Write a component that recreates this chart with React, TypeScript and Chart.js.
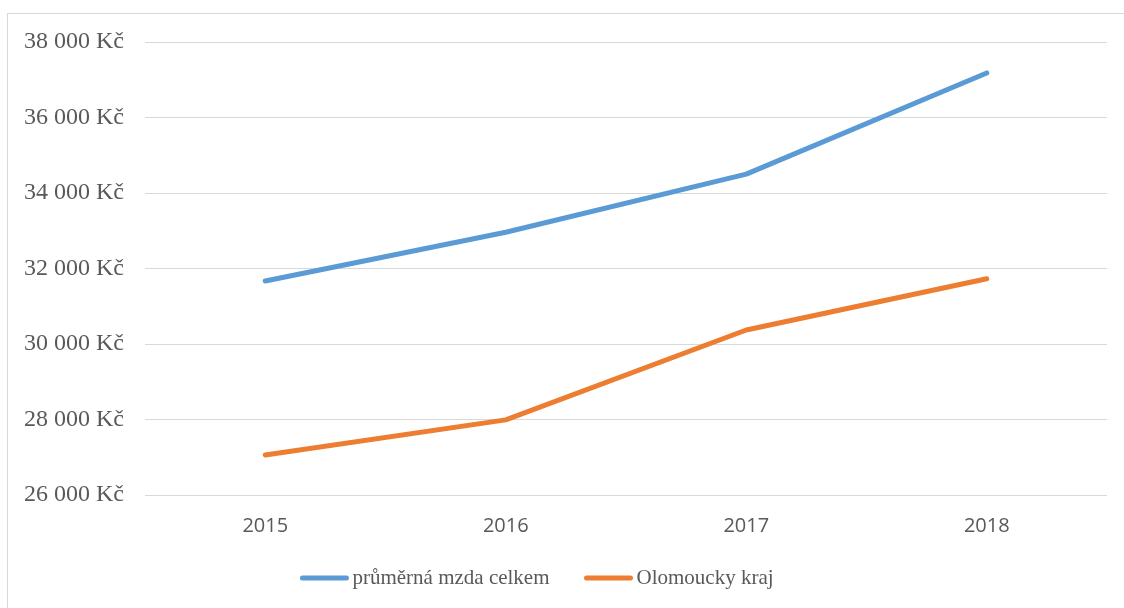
import React, { useEffect, useRef } from "react";
import { Chart, registerables } from "chart.js";

Chart.register(...registerables);

const years = ["2015", "2016", "2017", "2018"];
const averageWage = [31670, 32960, 34500, 37180];
const olomoucRegion = [27060, 27990, 30370, 31730];
const yMin = 26000;
const yMax = 38000;
const yStep = 2000;

const BLUE = "#5B9BD5";
const ORANGE = "#ED7D31";
const GRID = "#D9D9D9";
const TEXT = "#595959";
const SERIF = "'Liberation Serif', 'Times New Roman', serif";

const formatKc = (v: number) =>
  String(v).replace(/\B(?=(\d{3})+(?!\d))/g, " ") + " Kč";

// Legend drawn as a line swatch followed closely by its label, centred on one row.
const lineLegend = {
  id: "lineLegend",
  afterDraw(chart: any) {
    const ctx = chart.ctx;
    const datasets = chart.data.datasets;
    const swatch = 48;
    const gapText = 4;
    const gapItem = 35;
    const centerX = 537;
    const y = 578;
    ctx.save();
    ctx.font = "21px " + SERIF;
    const widths = datasets.map((d: any) => ctx.measureText(d.label).width);
    const total =
      widths.reduce((a: number, w: number) => a + swatch + gapText + w, 0) +
      gapItem * (datasets.length - 1);
    let x = centerX - total / 2;
    datasets.forEach((d: any, i: number) => {
      ctx.strokeStyle = d.borderColor;
      ctx.lineWidth = 5;
      ctx.lineCap = "round";
      ctx.beginPath();
      ctx.moveTo(x + 2, y);
      ctx.lineTo(x + swatch - 2, y);
      ctx.stroke();
      x += swatch + gapText;
      ctx.fillStyle = TEXT;
      ctx.textAlign = "left";
      ctx.textBaseline = "middle";
      ctx.fillText(d.label, x, y);
      x += widths[i] + gapItem;
    });
    ctx.restore();
  },
};

export default function App() {
  const canvasRef = useRef<HTMLCanvasElement | null>(null);

  useEffect(() => {
    const canvas = canvasRef.current;
    if (!canvas) return;
    const chart = new Chart(canvas, {
      type: "line",
      data: {
        labels: years,
        datasets: [
          {
            label: "průměrná mzda celkem",
            data: averageWage,
            borderColor: BLUE,
            backgroundColor: BLUE,
            borderWidth: 5,
            borderCapStyle: "round",
            borderJoinStyle: "round",
            pointRadius: 0,
            tension: 0,
          },
          {
            label: "Olomoucky kraj",
            data: olomoucRegion,
            borderColor: ORANGE,
            backgroundColor: ORANGE,
            borderWidth: 5,
            borderCapStyle: "round",
            borderJoinStyle: "round",
            pointRadius: 0,
            tension: 0,
          },
        ],
      },
      options: {
        animation: false,
        responsive: false,
        maintainAspectRatio: false,
        layout: { padding: { top: 42, right: 17, left: 0, bottom: 69 } },
        plugins: {
          tooltip: { enabled: false },
          legend: { display: false },
        },
        scales: {
          x: {
            offset: true,
            grid: { display: false, drawTicks: false },
            border: { display: false },
            afterFit: (s: any) => {
              s.height = 44;
            },
            ticks: {
              color: TEXT,
              padding: 19,
              font: { family: "'Open Sans', sans-serif", size: 20 },
            },
          },
          y: {
            min: yMin,
            max: yMax,
            grid: { color: GRID, lineWidth: 1, drawTicks: false },
            border: { display: false },
            afterFit: (s: any) => {
              s.width = 145;
            },
            ticks: {
              stepSize: yStep,
              color: TEXT,
              padding: 21,
              font: { family: SERIF, size: 24 },
              callback: (v: any) => formatKc(Number(v)),
            },
          },
        },
      },
      plugins: [lineLegend],
    });
    return () => chart.destroy();
  }, []);

  return (
    <div style={{ position: "fixed", left: 0, top: 0, width: 1124, height: 608, background: "#fff", overflow: "hidden" }}>
      <div
        style={{
          position: "absolute",
          left: 7,
          top: 13,
          width: 1200,
          height: 700,
          border: "1px solid " + GRID,
        }}
      />
      <canvas ref={canvasRef} width={1124} height={608} style={{ position: "absolute", left: 0, top: 0 }} />
    </div>
  );
}
